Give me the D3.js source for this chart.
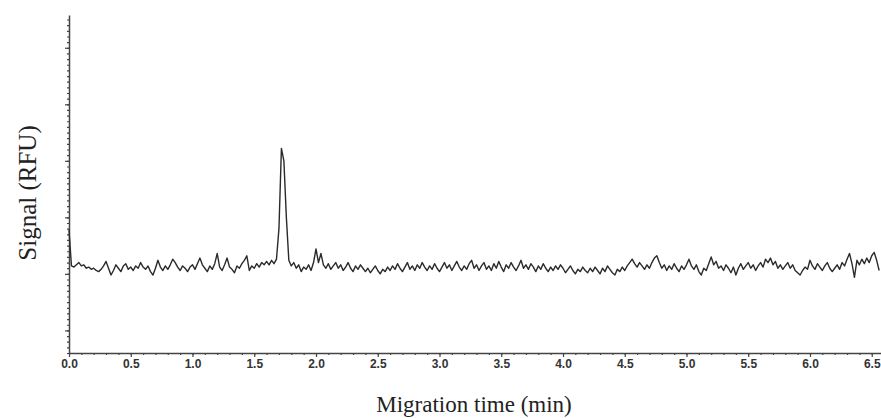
<!DOCTYPE html>
<html>
<head>
<meta charset="utf-8">
<script src="https://cdn.jsdelivr.net/npm/d3@7"></script>
<style>
  body { margin: 0; background: #fff; }
</style>
</head>
<body>
<div id="myChart"></div>
<script>
// electropherogram, one sample every 0.02 min
var sampleStep = 0.02;
var signal = [
  89, 57, 56, 58, 60, 57, 58, 55, 56, 54,
  55, 53, 52, 54, 57, 61, 55, 49, 53, 58,
  55, 52, 57, 59, 54, 56, 53, 57, 55, 60,
  56, 54, 57, 52, 49, 55, 62, 56, 53, 57,
  54, 58, 63, 60, 56, 53, 57, 55, 52, 56,
  58, 54, 59, 64, 58, 55, 52, 57, 54, 59,
  68, 56, 53, 58, 64, 56, 54, 51, 57, 55,
  59, 62, 66, 53, 57, 55, 59, 56, 60, 58,
  61, 58, 62, 59, 63, 90, 161, 150, 100, 62,
  57, 60, 55, 58, 52, 56, 54, 58, 53, 60,
  72, 60, 68, 58, 55, 59, 54, 57, 60, 55,
  58, 53, 56, 60, 55, 52, 57, 54, 58, 55,
  52, 55, 51, 54, 57, 53, 50, 54, 52, 56,
  53, 57, 54, 59, 55, 52, 56, 60, 54, 57,
  53, 58, 55, 60, 56, 53, 57, 54, 59, 55,
  52, 56, 60, 55, 58, 53, 57, 61, 56, 53,
  57, 54, 59, 62, 55, 58, 53, 57, 60, 54,
  57, 53, 59, 55, 61, 56, 52, 58, 55, 60,
  56, 53, 57, 62, 55, 58, 54, 59, 56, 52,
  57, 54, 59, 55, 52, 56, 53, 57, 54, 58,
  55, 51, 54, 57, 53, 50, 54, 52, 56, 53,
  51, 55, 52, 56, 53, 50, 55, 52, 57, 54,
  51, 49, 54, 52, 56, 53, 57, 60, 63, 59,
  56, 60, 57, 54, 58, 55, 60, 64, 66, 60,
  55, 58, 53, 57, 54, 59, 55, 52, 57, 54,
  58, 63, 57, 54, 58, 52, 49, 55, 53, 59,
  65, 58, 61, 55, 57, 53, 58, 55, 51, 56,
  49, 55, 59, 54, 57, 60, 55, 58, 53, 57,
  60, 56, 63, 60, 64, 58, 61, 55, 58, 54,
  57, 60, 55, 58, 53, 51, 49, 53, 56, 54,
  62, 57, 54, 59, 56, 53, 57, 60, 55, 52,
  55, 58, 54, 60, 57, 63, 68, 59, 47, 62,
  58, 63, 59, 64, 60, 66, 69, 62, 53
];
var xTickValues = [0, 0.5, 1, 1.5, 2, 2.5, 3, 3.5, 4, 4.5, 5, 5.5, 6, 6.5];
var xTitle = "Migration time (min)";
var yTitle = "Signal (RFU)";

var points = signal.map(function(v, i) {
  return { t: i * sampleStep, v: v };
});

var svgWidth = 881, svgHeight = 418;
var svg = d3.select("#myChart").append("svg")
  .attr("width", svgWidth)
  .attr("height", svgHeight);

var x = d3.scaleLinear().domain([0, 6.575]).range([69, 881]);
var y = d3.scaleLinear().domain([-20, 279]).range([353, 15]);

// minor ticks first so the major ones sit on top
svg.append("g")
  .attr("transform", "translate(0,353)")
  .call(d3.axisBottom(x).tickValues(d3.range(0, 6.58, 0.1)).tickSize(2).tickFormat(""))
  .call(function(g) { g.select(".domain").remove(); });

svg.append("g")
  .attr("transform", "translate(69,0)")
  .call(d3.axisLeft(y).tickValues(d3.range(-20, 280, 5)).tickSize(2).tickFormat(""))
  .call(function(g) { g.select(".domain").remove(); });

var xAxis = svg.append("g")
  .attr("transform", "translate(0,353)")
  .call(d3.axisBottom(x).tickValues(xTickValues).tickSize(4).tickSizeOuter(0)
    .tickFormat(d3.format(".1f")));
xAxis.selectAll("text")
  .attr("dy", "0.7em")
  .style("font-family", "'Liberation Sans', Arial, sans-serif")
  .style("font-size", "12px")
  .style("font-weight", "bold")
  .attr("fill", "#333");

svg.append("g")
  .attr("transform", "translate(69,0)")
  .call(d3.axisLeft(y).tickValues([0, 50, 100, 150, 200, 250]).tickSize(4)
    .tickSizeOuter(0).tickFormat(""));

svg.selectAll(".domain").attr("stroke", "#444").attr("stroke-width", 1.5);
svg.selectAll(".tick line").attr("stroke", "#444").attr("stroke-width", 1.2);

// trace
svg.append("path")
  .datum(points)
  .attr("fill", "none")
  .attr("stroke", "#2a2a2a")
  .attr("stroke-width", 1.4)
  .attr("stroke-linejoin", "round")
  .attr("d", d3.line()
    .x(function(d) { return x(d.t); })
    .y(function(d) { return y(d.v); }));

svg.append("text")
  .attr("x", 474)
  .attr("y", 412)
  .attr("text-anchor", "middle")
  .style("font-family", "'Liberation Serif', 'Times New Roman', serif")
  .style("font-size", "23px")
  .attr("fill", "#222")
  .text(xTitle);

svg.append("text")
  .attr("transform", "translate(36,193) rotate(-90)")
  .attr("text-anchor", "middle")
  .style("font-family", "'Liberation Serif', 'Times New Roman', serif")
  .style("font-size", "25px")
  .attr("fill", "#222")
  .text(yTitle);
</script>
</body>
</html>
